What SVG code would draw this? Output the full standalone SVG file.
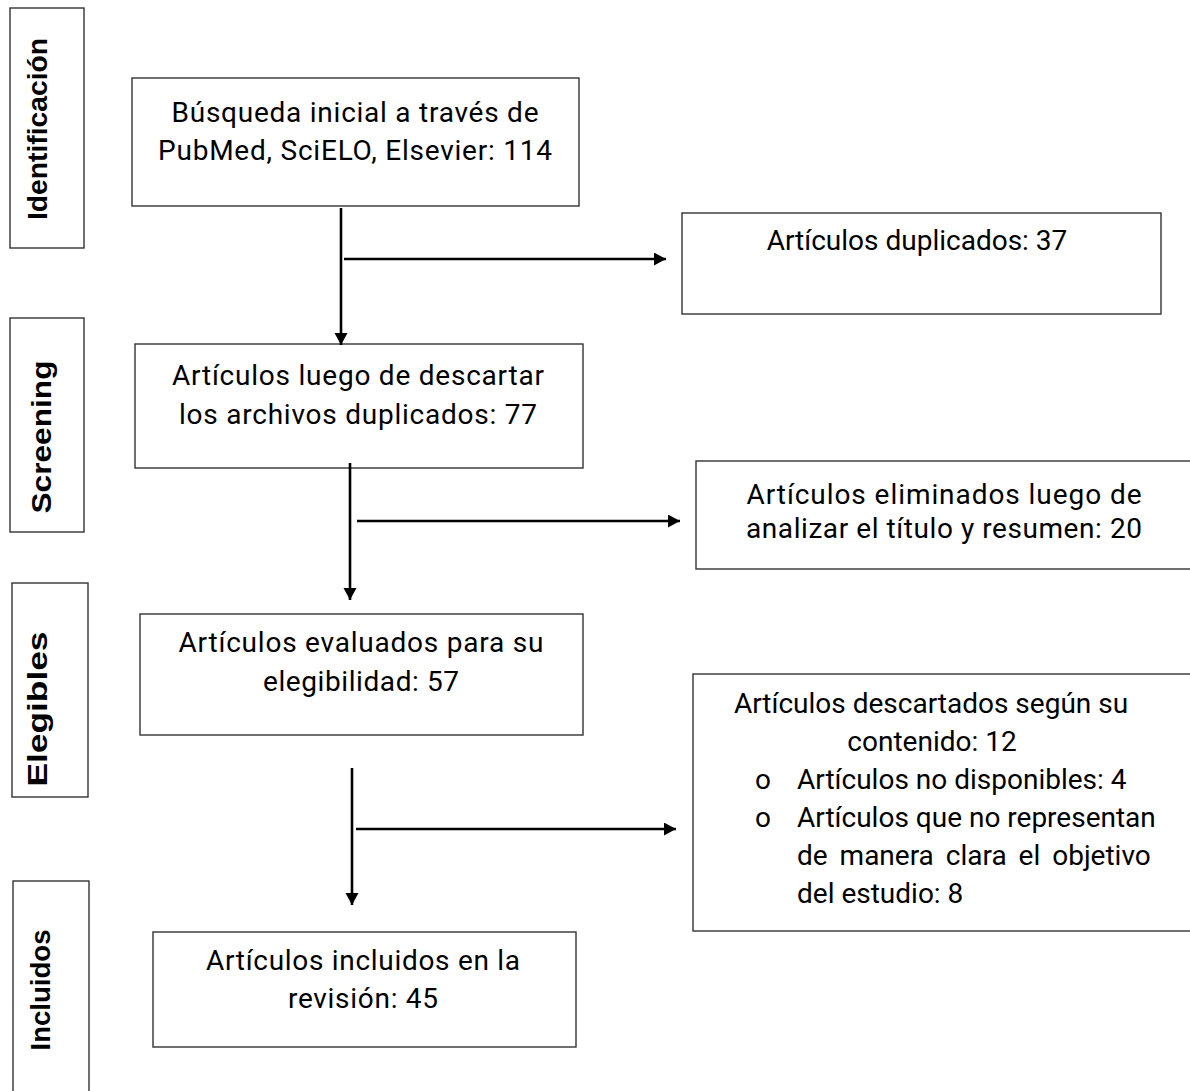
<svg xmlns="http://www.w3.org/2000/svg" width="1190" height="1091" viewBox="0 0 1190 1091">
<style>
.box{fill:#fff;stroke:#333;stroke-width:1.4}
.t{font-family:Roboto,"Liberation Sans",sans-serif;font-size:28px;fill:#000;text-anchor:middle}
.tl{font-family:Roboto,"Liberation Sans",sans-serif;font-size:28px;fill:#000}
.lab{font-family:"Liberation Sans",Arial,sans-serif;font-weight:bold;font-size:27px;fill:#000;text-anchor:middle}
.c{fill:none;stroke:#000;stroke-width:2.6}
</style>
<defs>
<marker id="ah" markerUnits="userSpaceOnUse" markerWidth="14" markerHeight="14" refX="12" refY="6.5" orient="auto">
<path d="M0,0 L12,6.5 L0,13 Z" fill="#000"/>
</marker>
</defs>
<rect width="1190" height="1091" fill="#fff"/>
<g id="stage-identificacion">
<rect class="box" x="10" y="8" width="74" height="240"/>
<text class="lab" transform="translate(47,129) rotate(-90)" textLength="182" lengthAdjust="spacingAndGlyphs">Identificación</text>
</g>
<g id="stage-screening">
<rect class="box" x="10" y="318" width="74" height="214"/>
<text class="lab" transform="translate(51,437) rotate(-90)" textLength="153" lengthAdjust="spacingAndGlyphs">Screening</text>
</g>
<g id="stage-elegibles">
<rect class="box" x="12" y="583" width="76" height="214"/>
<text class="lab" transform="translate(47,709) rotate(-90)" textLength="155" lengthAdjust="spacingAndGlyphs">Elegibles</text>
</g>
<g id="stage-incluidos">
<rect class="box" x="13" y="881" width="76" height="220"/>
<text class="lab" transform="translate(50,990) rotate(-90)" textLength="121" lengthAdjust="spacingAndGlyphs">Incluidos</text>
</g>
<g id="n-busqueda">
<rect class="box" x="132" y="78" width="447" height="128"/>
<text class="t" x="355" y="122" textLength="367" lengthAdjust="spacing">Búsqueda inicial a través de</text>
<text class="t" x="355" y="160" textLength="394" lengthAdjust="spacing">PubMed, SciELO, Elsevier: 114</text>
</g>
<g id="n-duplicados">
<rect class="box" x="682" y="213" width="479" height="101"/>
<text class="t" x="917" y="250">Artículos duplicados: 37</text>
</g>
<g id="n-luego">
<rect class="box" x="135" y="344" width="448" height="124"/>
<text class="t" x="358" y="385" textLength="372" lengthAdjust="spacing">Artículos luego de descartar</text>
<text class="t" x="358" y="424" textLength="358" lengthAdjust="spacing">los archivos duplicados: 77</text>
</g>
<g id="n-eliminados">
<rect class="box" x="696" y="461" width="510" height="108"/>
<text class="t" x="944" y="504" textLength="395" lengthAdjust="spacing">Artículos eliminados luego de</text>
<text class="t" x="944" y="538" textLength="396" lengthAdjust="spacing">analizar el título y resumen: 20</text>
</g>
<g id="n-evaluados">
<rect class="box" x="140" y="614" width="443" height="121"/>
<text class="t" x="361" y="652" textLength="365" lengthAdjust="spacing">Artículos evaluados para su</text>
<text class="t" x="361" y="691" textLength="196" lengthAdjust="spacing">elegibilidad: 57</text>
</g>
<g id="n-descartados">
<rect class="box" x="693" y="674" width="510" height="257"/>
<text class="t" x="931" y="713">Artículos descartados según su</text>
<text class="t" x="932" y="751">contenido: 12</text>
<text class="tl" x="755" y="789">o</text>
<text class="tl" x="797" y="789">Artículos no disponibles: 4</text>
<text class="tl" x="755" y="827">o</text>
<text class="tl" x="797" y="827">Artículos que no representan</text>
<text class="tl" x="797" y="865" word-spacing="5">de manera clara el objetivo</text>
<text class="tl" x="797" y="903">del estudio: 8</text>
</g>
<g id="n-incluidos">
<rect class="box" x="153" y="932" width="423" height="115"/>
<text class="t" x="363" y="970" textLength="314" lengthAdjust="spacing">Artículos incluidos en la</text>
<text class="t" x="363" y="1008" textLength="150" lengthAdjust="spacing">revisión: 45</text>
</g>
<g id="connectors">
<line class="c" x1="341" y1="208" x2="341" y2="345" marker-end="url(#ah)"/>
<line class="c" x1="344" y1="259" x2="666" y2="259" marker-end="url(#ah)"/>
<line class="c" x1="350" y1="463" x2="350" y2="600" marker-end="url(#ah)"/>
<line class="c" x1="357" y1="521" x2="680" y2="521" marker-end="url(#ah)"/>
<line class="c" x1="352" y1="768" x2="352" y2="905" marker-end="url(#ah)"/>
<line class="c" x1="356" y1="829" x2="676" y2="829" marker-end="url(#ah)"/>
</g>
</svg>
